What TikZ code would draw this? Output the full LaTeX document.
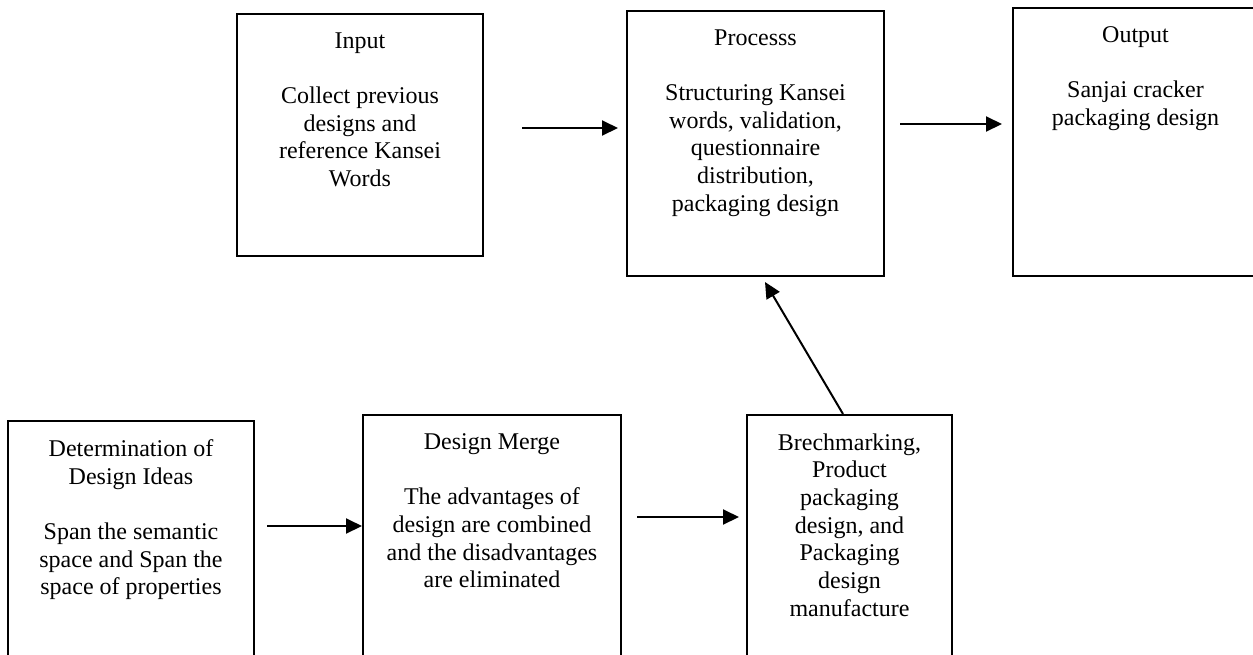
\documentclass[tikz,border=0pt]{standalone}
\usepackage{fontspec}
\setmainfont{Liberation Serif}
\usetikzlibrary{arrows.meta, positioning}

\begin{document}
\begin{tikzpicture}[x=0.5pt, y=-0.5pt]
			\tikzstyle{Box} = [rectangle, draw=black, line width=1pt, inner sep=0pt, minimum width=123pt, minimum height=121pt]
			\tikzstyle{BoxText} = [inner sep=0pt, align=center, anchor=north, font=\fontsize{12}{13.85}\selectfont]
			\tikzstyle{arrow} = [line width=1pt, -{Triangle[length=8pt, width=7.5pt]}]

			\useasboundingbox (0,0) rectangle (1253,654);
			\clip (0,0) rectangle (1253,654);

			\node (input) [Box] at (360,135) {};
			\node (inputText) [BoxText, below = 9.5pt of input.north] {Input\\[13.85pt]Collect previous\\designs and\\reference Kansei\\Words};

			\node (process) [Box, minimum width=128.5pt, minimum height=132.5pt] at (755.5,143.5) {};
			\node (processText) [BoxText, below = 9.5pt of process.north] {Processs\\[13.85pt]Structuring Kansei\\words, validation,\\questionnaire\\distribution,\\packaging design};

			\node (output) [Box, minimum width=122.5pt, minimum height=134pt] at (1135.5,142) {};
			\node (outputText) [BoxText, below = 9.5pt of output.north] {Output\\[13.85pt]Sanjai cracker\\packaging design};

			\node (designIdeas) [Box, minimum height=129.5pt] at (131,550.5) {};
			\node (designIdeasText) [BoxText, below = 9.5pt of designIdeas.north] {Determination of\\Design Ideas\\[13.85pt]Span the semantic\\space and Span the\\space of properties};

			\node (designMerge) [Box, minimum width=129pt, minimum height=132.5pt] at (492,547.5) {};
			\node (designMergeText) [BoxText, below = 9.5pt of designMerge.north] {Design Merge\\[13.85pt]The advantages of\\design are combined\\and the disadvantages\\are eliminated};

			\node (benchmarking) [Box, minimum width=102.5pt, minimum height=132.5pt] at (849.5,547.5) {};
			\node (benchmarkingText) [BoxText, below = 9.5pt of benchmarking.north] {Brechmarking,\\Product\\packaging\\design, and\\Packaging\\design\\manufacture};

			\draw[arrow] ([xshift=19pt, yshift=3.5pt]input.east) -- ([xshift=-4pt, yshift=3.5pt]input.east -| process.west);
			\draw[arrow] ([xshift=7.5pt, yshift=9.75pt]process.east) -- ([xshift=-5pt, yshift=9.75pt]process.east -| output.west);
			\draw[arrow] ([xshift=6pt, yshift=12.25pt]designIdeas.east) -- ([yshift=12.25pt]designIdeas.east -| designMerge.west);
			\draw[arrow] ([xshift=7.5pt, yshift=15.25pt]designMerge.east) -- ([xshift=-3.5pt, yshift=15.25pt]designMerge.east -| benchmarking.west);
			\draw[arrow] ([xshift=-3.25pt]benchmarking.north) -- ([xshift=4.75pt, yshift=-2.5pt]process.south);
		\end{tikzpicture}
\end{document}
